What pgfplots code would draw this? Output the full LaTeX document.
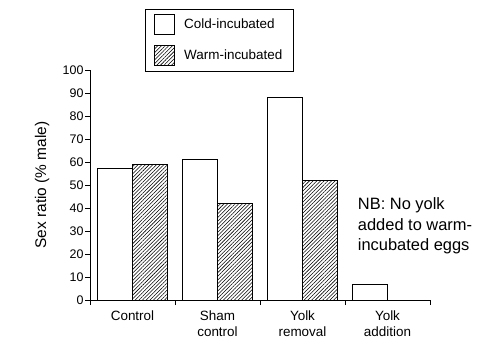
\documentclass[border=0pt]{standalone}
\usepackage{pgfplots}
\pgfplotsset{compat=1.18}
\usepackage{fontspec}
\setmainfont{Liberation Sans}
\usetikzlibrary{patterns.meta}
\begin{document}
\begin{tikzpicture}
\path[use as bounding box] (-90bp,-58bp) rectangle (410bp,300bp);
\begin{axis}[
  scale only axis,
  width=340bp, height=230bp,
  at={(0,0)}, anchor=south west,
  xmin=-0.5, xmax=3.5, ymin=0, ymax=100,
  axis x line*=bottom, axis y line*=left,
  axis line style={-, line width=0.8bp},
  ybar=0pt, bar width=35bp,
  xtick={0,1,2,3},
  xticklabels={Control, {Sham\\control}, {Yolk\\removal}, {Yolk\\addition}},
  major x tick style={draw=none},
  minor xtick={-0.5,0.5,1.5,2.5,3.5},
  minor tick length=5bp,
  minor x tick style={line width=0.8bp, black},
  ytick={0,10,...,100},
  major tick length=5bp,
  y tick style={line width=0.8bp, black},
  tick align=outside,
  /pgf/number format/assume math mode=true,
  yticklabel style={font=\fontsize{12.5}{14}\selectfont, xshift=2bp},
  xticklabel style={font=\fontsize{13.5}{16.5}\selectfont, align=center, anchor=north, yshift=-2bp},
  ylabel={Sex ratio (\% male)},
  ylabel style={at={(axis description cs:-0.141,0.5)}, anchor=center, font=\fontsize{15.5}{18}\selectfont},
  legend style={at={(axis description cs:0.1618,1.265)}, anchor=north west,
    draw=black, line width=0.8bp, font=\fontsize{13.5}{16}\selectfont,
    inner xsep=9bp, inner ysep=5bp, row sep=10bp,
    /tikz/every odd column/.append style={column sep=7bp}},
  legend cell align=left,
  legend image code/.code={\draw[#1, line width=0.8bp] (0bp,-10bp) rectangle (20bp,10bp);},
  every axis plot/.append style={draw=black, line width=0.8bp},
  clip=false,
]
\addplot[fill=white] coordinates {(0,57) (1,61) (2,88) (3,7)};
\addplot[pattern={Lines[angle=45,distance=2.6bp,line width=0.55bp]}] coordinates {(0,59) (1,42) (2,52)};
\legend{Cold-incubated, Warm-incubated}
\node[anchor=north west, align=left, font=\fontsize{16.5}{20.5}\selectfont, inner sep=0pt] at (axis cs:2.65,44.5) {NB: No yolk\\added to warm-\\incubated eggs};
\end{axis}
\end{tikzpicture}
\end{document}
